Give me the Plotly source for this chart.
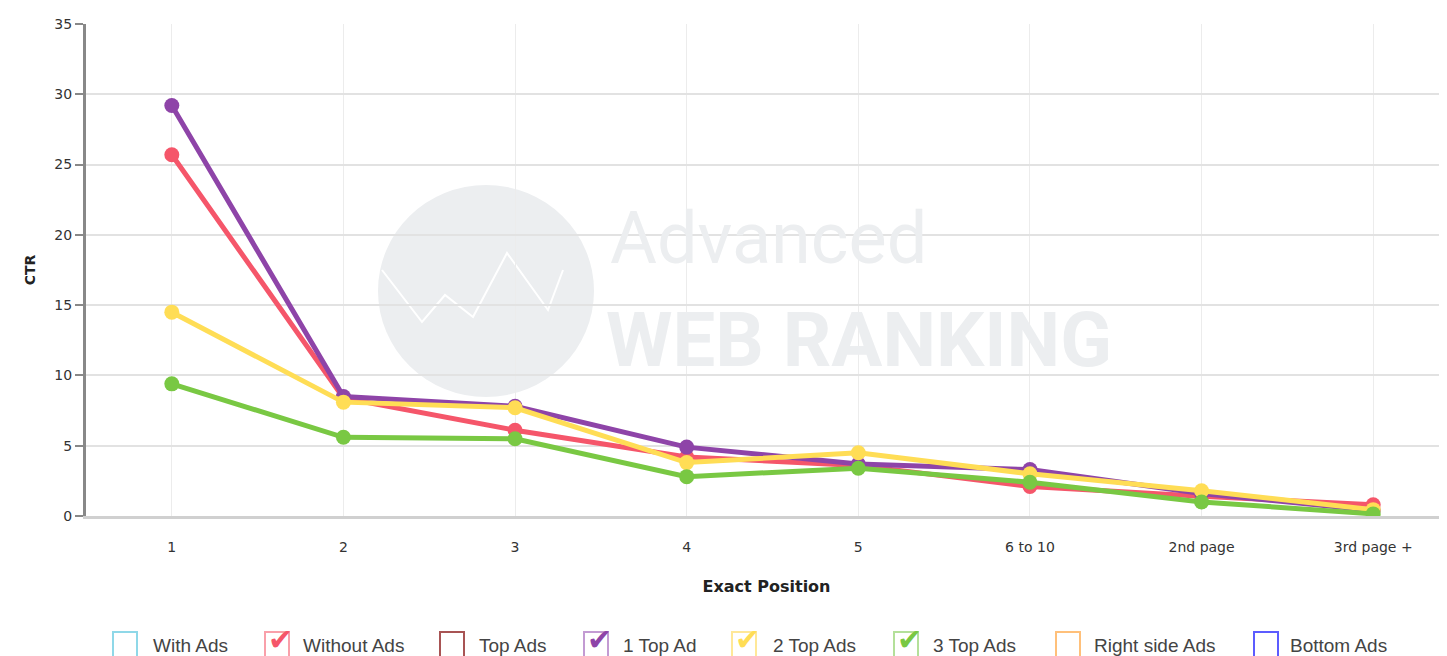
import plotly.graph_objects as go

# CTR by exact position, per ad layout
positions = ["1", "2", "3", "4", "5", "6 to 10", "2nd page", "3rd page +"]
without_ads = [25.7, 8.4, 6.1, 4.2, 3.6, 2.1, 1.4, 0.8]
one_top_ad = [29.2, 8.5, 7.8, 4.9, 3.7, 3.3, 1.6, 0.4]
two_top_ads = [14.5, 8.1, 7.7, 3.8, 4.5, 3.0, 1.8, 0.45]
three_top_ads = [9.4, 5.6, 5.5, 2.8, 3.4, 2.4, 1.0, 0.15]

series = [
    ("Without Ads", without_ads, "#f5566a"),
    ("1 Top Ad", one_top_ad, "#8e44a8"),
    ("2 Top Ads", two_top_ads, "#ffdd55"),
    ("3 Top Ads", three_top_ads, "#79c843"),
]

# legend entries: (label, box colour, check colour or None)
legend_items = [
    ("With Ads", "#8fd8e8", None),
    ("Without Ads", "#f9a0aa", "#f5566a"),
    ("Top Ads", "#a85454", None),
    ("1 Top Ad", "#c39bd3", "#8e44a8"),
    ("2 Top Ads", "#ffe898", "#ffdd55"),
    ("3 Top Ads", "#b4e09a", "#79c843"),
    ("Right side Ads", "#ffc07a", None),
    ("Bottom Ads", "#5c5cff", None),
]
legend_box_x = [113, 265, 440, 584, 732, 894, 1056, 1254]
legend_text_x = [151, 301, 477, 621, 771, 931, 1092, 1288]

# the page body has an 8px margin, so the figure is shifted by that much
OFF = 8
W, H = 1447 - OFF, 656 - OFF
PL, PT, PB = 86, 24, 516          # plot area edges in screen pixels
pw, ph = 1447 - PL, PB - PT


def px(x):
    return (x - PL) / pw


def py(y):
    return (PB - y) / ph


fig = go.Figure()
for name, vals, col in series:
    fig.add_trace(go.Scatter(
        x=positions, y=vals, name=name, mode="lines+markers",
        line=dict(color=col, width=5),
        marker=dict(color=col, size=15),
    ))

shapes = []
annotations = []

# watermark globe
shapes.append(dict(type="circle", xref="paper", yref="paper", layer="below",
                   x0=px(378), x1=px(594), y0=py(397), y1=py(185),
                   fillcolor="#eceef0", line=dict(width=0)))
w_pts = [(382, 270), (422, 322), (445, 295), (473, 317), (507, 253), (548, 310), (563, 270)]
shapes.append(dict(type="path", xref="paper", yref="paper", layer="below",
                   path="M " + " L ".join(f"{px(a)} {py(b)}" for a, b in w_pts),
                   line=dict(color="white", width=2)))
annotations.append(dict(xref="paper", yref="paper", x=px(608), y=py(238),
                        xanchor="left", yanchor="middle", showarrow=False,
                        text="Advanced",
                        font=dict(family="Roboto", size=72, color="#eceef0")))
annotations.append(dict(xref="paper", yref="paper", x=px(604), y=py(340),
                        xanchor="left", yanchor="middle", showarrow=False,
                        text="<b>WEB RANKING</b>",
                        font=dict(family="Roboto", size=76, color="#eceef0")))

# custom checkbox legend
ly = 645
for (label, box_col, check_col), bx, tx in zip(legend_items, legend_box_x, legend_text_x):
    shapes.append(dict(type="rect", xref="paper", yref="paper",
                       x0=px(bx), x1=px(bx + 24), y0=py(660), y1=py(632),
                       line=dict(color=box_col, width=2), fillcolor="rgba(0,0,0,0)"))
    if check_col:
        annotations.append(dict(xref="paper", yref="paper", x=px(bx + 15), y=py(639),
                                xanchor="center", yanchor="middle", showarrow=False,
                                text="✔", font=dict(family="DejaVu Sans", size=30, color=check_col)))
    annotations.append(dict(xref="paper", yref="paper", x=px(tx), y=py(ly),
                            xanchor="left", yanchor="middle", showarrow=False,
                            text=label, font=dict(family="Liberation Sans, Arial", size=19, color="#444")))

fig.update_layout(
    width=W, height=H,
    margin=dict(l=PL - OFF, r=0, t=PT - OFF, b=656 - PB, autoexpand=False),
    paper_bgcolor="white", plot_bgcolor="white",
    showlegend=False,
    shapes=shapes, annotations=annotations,
    font=dict(family="DejaVu Sans, Verdana", color="#444"),
)
fig.update_xaxes(
    range=[-0.5, 7.43],
    showgrid=True, gridcolor="#ececec", gridwidth=1,
    showline=True, linecolor="#d0d0d0", linewidth=3,
    ticks="outside", ticklen=16, tickcolor="rgba(0,0,0,0)",
    tickfont=dict(size=14, color="#333"),
    title=dict(text="<b>Exact Position</b>", font=dict(size=16, color="#222"), standoff=28),
    zeroline=False, automargin=False,
)
fig.update_yaxes(
    range=[0, 35], dtick=5,
    showgrid=True, gridcolor="#e2e2e2", gridwidth=1.5,
    showline=True, linecolor="#888", linewidth=3,
    ticks="outside", ticklen=8, tickcolor="#888", tickwidth=1.5,
    tickfont=dict(size=14, color="#333"),
    title=dict(text="<b>CTR</b>", font=dict(size=14, color="#222"), standoff=16),
    zeroline=False, automargin=False,
)

fig.write_html("out.html")
